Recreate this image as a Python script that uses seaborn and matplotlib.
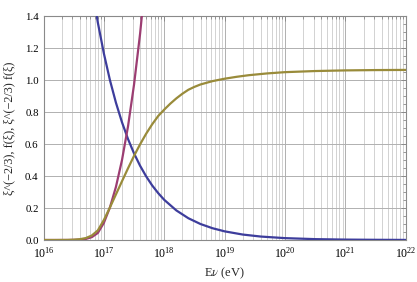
import numpy as np
import pandas as pd
import matplotlib
matplotlib.use("Agg")
import matplotlib.pyplot as plt
import seaborn as sns
from matplotlib.ticker import LogLocator, MultipleLocator, LogFormatterSciNotation, NullFormatter, FixedLocator

# log10(E) sample positions (eV) and curve values
logE_blue = [16.8, 16.9, 17.0, 17.1, 17.2, 17.3, 17.4, 17.5, 17.6, 17.7, 17.8, 17.9,
             18.0, 18.2, 18.4, 18.6, 18.8, 19.0, 19.3, 19.6, 20.0, 20.5, 21.0, 21.5, 22.0]
blue = [1.585, 1.359, 1.166, 1.0, 0.858, 0.736, 0.631, 0.541, 0.464, 0.398, 0.341, 0.293,
        0.251, 0.185, 0.136, 0.100, 0.0736, 0.0541, 0.0341, 0.0215, 0.0117, 0.0054, 0.0025, 0.0012, 0.0005]

logE_mag = [16.0, 16.2, 16.4, 16.5, 16.6, 16.7, 16.8, 16.9, 17.0, 17.1, 17.2, 17.3,
            17.4, 17.5, 17.6, 17.7]
magenta = [0.0, 0.0, 0.0002, 0.0008, 0.0023, 0.0065, 0.0177, 0.044, 0.107, 0.203, 0.332, 0.499,
           0.710, 0.972, 1.289, 1.668]

logE_olive = [16.0, 16.2, 16.4, 16.5, 16.6, 16.7, 16.8, 16.9, 17.0, 17.1, 17.2, 17.3, 17.4,
              17.5, 17.6, 17.7, 17.8, 17.9, 18.0, 18.1, 18.2, 18.3, 18.4, 18.5, 18.6, 18.8,
              19.0, 19.2, 19.4, 19.7, 20.0, 20.5, 21.0, 21.5, 22.0]
olive = [0.0, 0.0, 0.0005, 0.002, 0.005, 0.012, 0.028, 0.06, 0.125, 0.203, 0.285, 0.367, 0.448,
         0.526, 0.598, 0.664, 0.723, 0.775, 0.815, 0.852, 0.885, 0.914, 0.939, 0.957, 0.972, 0.993,
         1.008, 1.020, 1.030, 1.041, 1.049, 1.056, 1.060, 1.062, 1.063]

x_decades = [16, 17, 18, 19, 20, 21, 22]
y_ticks = [0.0, 0.2, 0.4, 0.6, 0.8, 1.0, 1.2, 1.4]
x_label = "E$\\nu$ (eV)"
y_label = "ξ^(−2/3), f(ξ), ξ^(−2/3) f(ξ)"

sns.set_style("white")
plt.rcParams['font.family'] = ['Liberation Serif', 'DejaVu Serif']
plt.rcParams['mathtext.fontset'] = 'stix'

fig = plt.figure(figsize=(4.17, 2.82), dpi=100)
ax = fig.add_axes([43.5 / 417, 1 - 240 / 282, (405.7 - 43.5) / 417, 224 / 282])

c_blue = "#3d3d9c"
c_mag = "#9c3d72"
c_olive = "#998b3a"

df_b = pd.DataFrame({"E": 10.0 ** np.array(logE_blue), "v": blue})
df_m = pd.DataFrame({"E": 10.0 ** np.array(logE_mag), "v": magenta})
df_o = pd.DataFrame({"E": 10.0 ** np.array(logE_olive), "v": olive})

ax.set_xscale("log")
sns.lineplot(data=df_b, x="E", y="v", ax=ax, color=c_blue, lw=1.6, zorder=3)
sns.lineplot(data=df_m, x="E", y="v", ax=ax, color=c_mag, lw=1.6, zorder=4)
sns.lineplot(data=df_o, x="E", y="v", ax=ax, color=c_olive, lw=1.6, zorder=5)

ax.set_xlim(10.0 ** x_decades[0], 10.0 ** x_decades[-1])
ax.set_ylim(0, 1.4)

ax.xaxis.set_major_locator(FixedLocator([10.0 ** d for d in x_decades]))
minor = [m * 10.0 ** d for d in x_decades[:-1] for m in range(2, 10)]
ax.xaxis.set_minor_locator(FixedLocator(minor))
ax.xaxis.set_major_formatter(LogFormatterSciNotation())
ax.xaxis.set_minor_formatter(NullFormatter())
ax.set_yticks(y_ticks)
ax.set_yticklabels([f"{v:.1f}" for v in y_ticks])
ax.yaxis.set_minor_locator(MultipleLocator(0.05))
ax.grid(True, which="major", axis="both", color="#b0b0b0", lw=0.7, zorder=0)
ax.grid(True, which="minor", axis="x", color="#d2d2d2", lw=0.7, zorder=0)

for s in ax.spines.values():
    s.set_color("#8a8a8a")
    s.set_linewidth(0.8)

ax.tick_params(axis="both", which="both", direction="in", top=True, right=True,
               color="#8a8a8a", labelsize=7.8, labelcolor="black")
ax.tick_params(which="major", length=3.5, width=0.7)
ax.tick_params(which="minor", length=2, width=0.6)
ax.tick_params(axis="x", which="major", labelsize=8.5, pad=4)

ax.set_xlabel(x_label, fontsize=9)
ax.xaxis.set_label_coords(0.5, -0.113)
ax.set_ylabel(y_label, fontsize=8.8)
ax.yaxis.set_label_coords(-0.078, 0.5)

fig.savefig("out.png", dpi=100)
